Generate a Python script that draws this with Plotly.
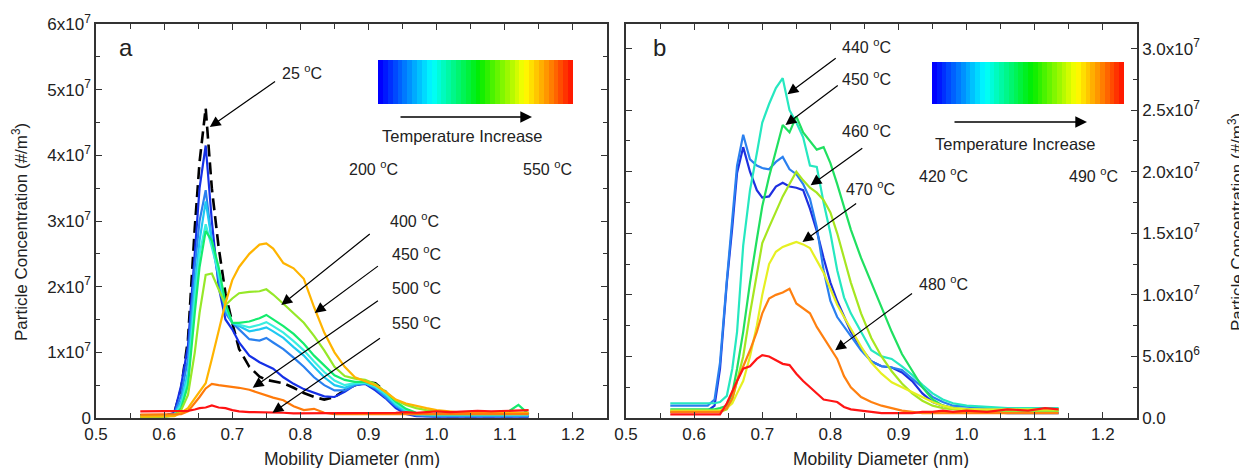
import plotly.graph_objects as go

W, H = 1247, 468          # browser window
OFF = 8                   # page body margin in the browser
FONT = "Liberation Sans, Arial, sans-serif"

# ---------------- Panel a data (concentration in units of 1e7 #/m3) ----------------
xa = [0.565, 0.58, 0.60, 0.615, 0.625, 0.635, 0.645, 0.652, 0.661, 0.67, 0.68, 0.69, 0.70, 0.71,
      0.725, 0.74, 0.75, 0.76, 0.775, 0.79, 0.805, 0.82, 0.835, 0.85, 0.865, 0.88, 0.895, 0.91,
      0.925, 0.94, 0.955, 0.97, 0.985, 1.0, 1.02, 1.04, 1.06, 1.08, 1.1, 1.12, 1.135]

a_25C = [0.04, 0.03, 0.03, 0.08, 0.45, 1.2, 2.9, 3.9, 4.72, 3.5, 2.6, 1.9, 1.45, 1.05,
         0.78, 0.63, 0.58, 0.56, 0.53, 0.46, 0.38, 0.32, 0.28, 0.32, 0.42, 0.5, 0.55, 0.53,
         0.4, 0.2, 0.08, 0.04, 0.03, 0.03, 0.03, 0.03, 0.03, 0.03, 0.03, 0.03, 0.03]
a_200C = [0.03, 0.03, 0.03, 0.08, 0.5, 1.1, 2.6, 3.5, 4.15, 3.0, 2.0, 1.5, 1.35, 1.15,
          0.95, 0.85, 0.8, 0.75, 0.62, 0.52, 0.44, 0.38, 0.33, 0.32, 0.4, 0.5, 0.52, 0.42,
          0.3, 0.15, 0.06, 0.03, 0.02, 0.02, 0.02, 0.02, 0.02, 0.02, 0.02, 0.02, 0.02]
a_250C = [0.02, 0.02, 0.02, 0.06, 0.35, 0.9, 2.3, 3.0, 3.47, 2.7, 2.1, 1.6, 1.45, 1.35,
          1.2, 1.18, 1.22, 1.15, 1.05, 0.92, 0.78, 0.62, 0.5, 0.42, 0.42, 0.5, 0.53, 0.45,
          0.32, 0.18, 0.08, 0.04, 0.03, 0.03, 0.03, 0.03, 0.03, 0.03, 0.03, 0.03, 0.03]
a_300C = [0.02, 0.02, 0.02, 0.05, 0.25, 0.7, 2.0, 2.7, 3.3, 2.7, 2.2, 1.65, 1.45, 1.4,
          1.32, 1.35, 1.38, 1.32, 1.22, 1.08, 0.95, 0.78, 0.62, 0.5, 0.46, 0.52, 0.53, 0.47,
          0.35, 0.2, 0.1, 0.05, 0.04, 0.04, 0.04, 0.04, 0.04, 0.04, 0.04, 0.04, 0.04]
a_325C = [0.02, 0.02, 0.02, 0.04, 0.2, 0.6, 1.8, 2.5, 2.95, 2.6, 2.2, 1.7, 1.45, 1.42,
          1.38, 1.42, 1.46, 1.4, 1.3, 1.17, 1.03, 0.86, 0.7, 0.57, 0.5, 0.53, 0.54, 0.48,
          0.37, 0.22, 0.12, 0.06, 0.05, 0.05, 0.05, 0.05, 0.05, 0.05, 0.05, 0.05, 0.05]
a_350C = [0.02, 0.02, 0.02, 0.03, 0.15, 0.5, 1.6, 2.3, 2.85, 2.7, 2.3, 1.75, 1.45, 1.45,
          1.47, 1.52, 1.57, 1.5, 1.4, 1.28, 1.13, 0.95, 0.8, 0.65, 0.58, 0.55, 0.55, 0.5,
          0.4, 0.25, 0.14, 0.08, 0.06, 0.06, 0.06, 0.06, 0.06, 0.06, 0.06, 0.2, 0.06]
a_400C = [0.02, 0.02, 0.02, 0.04, 0.12, 0.35, 1.0, 1.6, 2.18, 2.2, 1.95, 1.72, 1.82, 1.9,
          1.92, 1.93, 1.96, 1.88, 1.74, 1.6, 1.45, 1.25, 1.03, 0.78, 0.64, 0.6, 0.58, 0.52,
          0.4, 0.27, 0.2, 0.15, 0.12, 0.1, 0.08, 0.08, 0.08, 0.08, 0.08, 0.08, 0.08]
a_450C = [0.02, 0.02, 0.02, 0.03, 0.08, 0.15, 0.3, 0.4, 0.53, 0.9, 1.34, 1.75, 2.1, 2.3,
          2.5, 2.64, 2.66, 2.58, 2.36, 2.28, 2.12, 1.69, 1.3, 1.0, 0.78, 0.62, 0.56, 0.5,
          0.4, 0.28, 0.22, 0.18, 0.15, 0.12, 0.1, 0.08, 0.08, 0.08, 0.08, 0.08, 0.08]
a_500C = [0.05, 0.05, 0.05, 0.05, 0.06, 0.1, 0.22, 0.32, 0.45, 0.52, 0.5, 0.49, 0.48, 0.46,
          0.43, 0.38, 0.34, 0.31, 0.27, 0.18, 0.12, 0.14, 0.08, 0.06, 0.06, 0.06, 0.06, 0.06,
          0.06, 0.06, 0.06, 0.06, 0.06, 0.06, 0.06, 0.06, 0.06, 0.06, 0.06, 0.06, 0.06]
a_550C = [0.1, 0.1, 0.1, 0.1, 0.1, 0.11, 0.13, 0.15, 0.16, 0.19, 0.16, 0.15, 0.12, 0.1,
          0.09, 0.09, 0.08, 0.08, 0.08, 0.07, 0.07, 0.07, 0.07, 0.07, 0.08, 0.08, 0.07, 0.08,
          0.08, 0.08, 0.09, 0.08, 0.09, 0.1, 0.09, 0.1, 0.11, 0.1, 0.11, 0.12, 0.12]

# ---------------- Panel b data (units of 1e7 #/m3) ----------------
xb = [0.565, 0.58, 0.60, 0.62, 0.63, 0.638, 0.648, 0.656, 0.663, 0.672, 0.682, 0.692, 0.70, 0.71,
      0.72, 0.73, 0.74, 0.75, 0.76, 0.77, 0.78, 0.79, 0.80, 0.81, 0.82, 0.83, 0.845, 0.86,
      0.875, 0.89, 0.905, 0.92, 0.935, 0.95, 0.965, 0.98, 1.0, 1.03, 1.06, 1.09, 1.115, 1.135]

b_420C = [0.05, 0.05, 0.05, 0.06, 0.1, 0.4, 1.1, 1.55, 1.99, 2.2, 2.0, 1.85, 1.79, 1.8,
          1.88, 1.91, 1.88, 1.87, 1.85, 1.7, 1.52, 1.3, 1.1, 0.95, 0.82, 0.7, 0.57, 0.46,
          0.42, 0.41, 0.37, 0.3, 0.2, 0.13, 0.1, 0.08, 0.06, 0.05, 0.04, 0.04, 0.04, 0.04]
b_430C = [0.1, 0.1, 0.1, 0.1, 0.15, 0.45, 1.12, 1.6, 2.05, 2.3, 2.1, 2.05, 2.03, 2.02,
          2.08, 2.12, 2.02, 1.98, 1.9, 1.78, 1.55, 1.2, 0.95, 0.82, 0.74, 0.66, 0.55, 0.46,
          0.42, 0.41, 0.39, 0.32, 0.25, 0.17, 0.13, 0.1, 0.09, 0.08, 0.08, 0.07, 0.07, 0.07]
b_440C = [0.12, 0.12, 0.12, 0.12, 0.12, 0.13, 0.18, 0.4, 0.7, 1.4, 1.85, 2.15, 2.4, 2.55,
          2.68, 2.76, 2.5, 2.4, 2.28, 2.05, 2.04, 1.75, 1.5, 1.2, 0.98, 0.85, 0.7, 0.55,
          0.5, 0.48, 0.42, 0.35, 0.27, 0.2, 0.15, 0.12, 0.1, 0.09, 0.08, 0.08, 0.08, 0.08]
b_450C = [0.07, 0.07, 0.07, 0.07, 0.07, 0.08, 0.1, 0.2, 0.4, 0.7, 1.1, 1.45, 1.72, 1.96,
          2.18, 2.38, 2.32, 2.45, 2.32, 2.25, 2.18, 2.2, 2.07, 1.9, 1.72, 1.53, 1.3, 1.1,
          0.9, 0.7, 0.52, 0.38, 0.25, 0.15, 0.1, 0.08, 0.07, 0.06, 0.06, 0.06, 0.06, 0.06]
b_460C = [0.05, 0.05, 0.05, 0.05, 0.05, 0.05, 0.07, 0.15, 0.3, 0.5, 0.85, 1.15, 1.42, 1.55,
          1.67, 1.8, 1.9, 2.0, 1.93, 1.87, 1.83, 1.77, 1.67, 1.5, 1.3, 1.1, 0.85, 0.65,
          0.5, 0.38, 0.28, 0.2, 0.14, 0.1, 0.08, 0.07, 0.06, 0.06, 0.06, 0.06, 0.06, 0.06]
b_470C = [0.06, 0.06, 0.06, 0.06, 0.06, 0.06, 0.08, 0.12, 0.2, 0.3, 0.5, 0.75, 1.0, 1.25,
          1.35, 1.39, 1.41, 1.43, 1.41, 1.38, 1.28, 1.18, 1.05, 0.92, 0.82, 0.72, 0.58, 0.45,
          0.36, 0.29, 0.25, 0.21, 0.17, 0.13, 0.1, 0.08, 0.07, 0.07, 0.07, 0.07, 0.07, 0.07]
b_480C = [0.05, 0.05, 0.05, 0.05, 0.05, 0.05, 0.08, 0.16, 0.3, 0.42, 0.55, 0.7, 0.85, 0.97,
          1.0, 1.02, 1.05, 0.93, 0.89, 0.85, 0.74, 0.65, 0.57, 0.48, 0.34, 0.25, 0.17, 0.13,
          0.1, 0.08, 0.06, 0.05, 0.04, 0.04, 0.04, 0.04, 0.04, 0.04, 0.04, 0.04, 0.04, 0.04]
b_490C = [0.03, 0.03, 0.03, 0.03, 0.03, 0.03, 0.12, 0.22, 0.3, 0.4, 0.42, 0.48, 0.51, 0.5,
          0.47, 0.44, 0.43, 0.36, 0.3, 0.25, 0.2, 0.15, 0.14, 0.13, 0.09, 0.07, 0.06, 0.05,
          0.04, 0.04, 0.04, 0.04, 0.05, 0.05, 0.06, 0.05, 0.06, 0.05, 0.07, 0.06, 0.08, 0.07]

SCALE = 1e7

series_a = [
    ("200 °C", a_200C, "#1530e6"),
    ("250 °C", a_250C, "#2a80ef"),
    ("300 °C", a_300C, "#1ec8f2"),
    ("325 °C", a_325C, "#3aefe0"),
    ("350 °C", a_350C, "#14ec6e"),
    ("400 °C", a_400C, "#96e828"),
    ("450 °C", a_450C, "#ffb400"),
    ("500 °C", a_500C, "#ff7a0a"),
    ("550 °C", a_550C, "#ff1212"),
]
series_b = [
    ("420 °C", b_420C, "#1e30e0"),
    ("430 °C", b_430C, "#2a80ef"),
    ("440 °C", b_440C, "#26e8c0"),
    ("450 °C", b_450C, "#20e060"),
    ("460 °C", b_460C, "#a6e620"),
    ("470 °C", b_470C, "#e6f022"),
    ("480 °C", b_480C, "#ff8010"),
    ("490 °C", b_490C, "#ff1515"),
]

# colour-bar (temperature ramp) stops
ramp_stops = [[0.0, "#0000ff"], [0.27, "#00ffff"], [0.52, "#00ee00"],
              [0.76, "#ffff00"], [0.87, "#ff9900"], [1.0, "#ff1a00"]]
ramp_cells = list(range(40))

fig = go.Figure()

# 25 °C reference (dashed, drawn underneath so the baseline is covered)
fig.add_trace(go.Scatter(x=xa, y=[v * SCALE for v in a_25C], mode="lines", name="25 °C",
                         line=dict(color="black", width=2.6, dash="12px,6px"),
                         xaxis="x", yaxis="y"))
for name, ys, col in series_a:
    fig.add_trace(go.Scatter(x=xa, y=[v * SCALE for v in ys], mode="lines", name=name,
                             line=dict(color=col, width=2.2), xaxis="x", yaxis="y"))

for name, ys, col in series_b:
    fig.add_trace(go.Scatter(x=xb, y=[v * SCALE for v in ys], mode="lines", name=name,
                             line=dict(color=col, width=2.2), xaxis="x2", yaxis="y2"))

# temperature ramps
fig.add_trace(go.Heatmap(z=[ramp_cells], colorscale=ramp_stops, showscale=False,
                         xaxis="x3", yaxis="y3", hoverinfo="skip"))
fig.add_trace(go.Heatmap(z=[ramp_cells], colorscale=ramp_stops, showscale=False,
                         xaxis="x4", yaxis="y4", hoverinfo="skip"))

# plot area in screen pixels: [96, 1137] x [24, 418]
L_PX, R_PX, T_PX, B_PX = 96, 1137, 24, 418
FIG_W, FIG_H = W - OFF, H - OFF
ML, MT = L_PX - OFF, T_PX - OFF
MR, MB = W - R_PX, H - B_PX
PW, PH = R_PX - L_PX, B_PX - T_PX


def px(x):
    return (x - L_PX) / PW


def py(y):
    return 1 - (y - T_PX) / PH


axis_common = dict(showline=True, linecolor="#333333", linewidth=1.5, mirror="ticks",
                   ticks="inside", ticklen=6, tickwidth=1.2, tickcolor="#333333",
                   showgrid=False, zeroline=False, automargin=False,
                   tickfont=dict(family=FONT, size=17, color="#222222"))

ydom = [py(418), py(24)]
xticks = [0.5, 0.6, 0.7, 0.8, 0.9, 1.0, 1.1, 1.2]

fig.update_layout(
    width=FIG_W, height=FIG_H, margin=dict(l=ML, r=MR, t=MT, b=MB, autoexpand=False),
    paper_bgcolor="white", plot_bgcolor="white", showlegend=False,
    font=dict(family=FONT, size=17, color="#222222"),
    xaxis=dict(domain=[px(96), px(607)], range=[0.5, 1.25], anchor="y",
               tickvals=xticks, ticktext=[f"{v:.1f}" for v in xticks],
               minor=dict(ticks="inside", ticklen=5, dtick=0.05, tick0=0.5, tickcolor="#333333"),
               **axis_common),
    yaxis=dict(domain=ydom, range=[0, 6e7], anchor="x",
               tickvals=[0, 1e7, 2e7, 3e7, 4e7, 5e7, 6e7],
               ticktext=["0"] + [f"{i}x10<sup>7</sup>" for i in range(1, 7)],
               minor=dict(ticks="inside", ticklen=4, dtick=0.5e7, tick0=0, tickcolor="#333333"),
               **axis_common),
    xaxis2=dict(domain=[px(626), px(1137)], range=[0.5, 1.25], anchor="y2",
                tickvals=xticks, ticktext=[f"{v:.1f}" for v in xticks],
                minor=dict(ticks="inside", ticklen=5, dtick=0.05, tick0=0.5, tickcolor="#333333"),
                **axis_common),
    yaxis2=dict(domain=ydom, range=[0, 3.2e7], anchor="x2", side="right",
                tickvals=[0, 0.5e7, 1e7, 1.5e7, 2e7, 2.5e7, 3e7],
                ticktext=["0.0", "5.0x10<sup>6</sup>", "1.0x10<sup>7</sup>", "1.5x10<sup>7</sup>",
                          "2.0x10<sup>7</sup>", "2.5x10<sup>7</sup>", "3.0x10<sup>7</sup>"],
                minor=dict(ticks="inside", ticklen=4, dtick=0.25e7, tick0=0, tickcolor="#333333"),
                **axis_common),
    xaxis3=dict(domain=[px(378), px(573)], anchor="y3", visible=False, range=[-0.5, 39.5]),
    yaxis3=dict(domain=[py(104), py(60)], anchor="x3", visible=False, range=[-0.5, 0.5]),
    xaxis4=dict(domain=[px(932), px(1124)], anchor="y4", visible=False, range=[-0.5, 39.5]),
    yaxis4=dict(domain=[py(104), py(62)], anchor="x4", visible=False, range=[-0.5, 0.5]),
)

ann = []


def text_paper(x, y, t, size=17, angle=0):
    ann.append(dict(x=px(x), y=py(y), xref="paper", yref="paper", text=t, showarrow=False,
                    textangle=angle, xanchor="center", yanchor="middle",
                    font=dict(family=FONT, size=size, color="#222222")))


def deg(t):
    return f"{t} <sup>o</sup>C"


# axis titles
text_paper(352, 459, "Mobility Diameter (nm)", 17.5)
text_paper(881, 459, "Mobility Diameter (nm)", 17.5)
text_paper(20, 232, "Particle Concentration (#/m<sup>3</sup>)", 17, -90)
text_paper(1236, 222, "Particle Concentration (#/m<sup>3</sup>)", 17, -90)

# panel letters
text_paper(126, 48, "a", 24)
text_paper(659, 48, "b", 24)

# ramp captions
text_paper(462, 136, "Temperature Increase", 16.5)
text_paper(373, 168, deg(200), 16)
text_paper(547, 168, deg(550), 16)
text_paper(1015, 144, "Temperature Increase", 16.5)
text_paper(943, 175, deg(420), 16)
text_paper(1093, 175, deg(490), 16)

# ramp arrows
for (x0, x1, yy) in [(399, 532, 117), (953, 1087, 122)]:
    ann.append(dict(x=px(x1), y=py(yy), xref="paper", yref="paper", ax=-(x1 - x0), ay=0,
                    text="", showarrow=True, arrowhead=2, arrowsize=1.8, arrowwidth=1.3,
                    arrowcolor="black"))

# labelled arrows: (label, text x, text y, tail x, tail y, tip x, tip y)
labels_a = [
    ("25", 0.803, 5.27e7, 0.765, 5.14e7, 0.667, 4.43e7),
    ("400", 0.967, 3.01e7, 0.904, 2.82e7, 0.772, 1.72e7),
    ("450", 0.970, 2.51e7, 0.916, 2.33e7, 0.821, 1.60e7),
    ("500", 0.970, 1.99e7, 0.916, 1.80e7, 0.730, 0.46e7),
    ("550", 0.970, 1.46e7, 0.919, 1.23e7, 0.759, 0.08e7),
]
labels_b = [
    ("440", 0.853, 3.02e7, 0.810, 2.93e7, 0.737, 2.63e7),
    ("450", 0.853, 2.76e7, 0.813, 2.71e7, 0.734, 2.38e7),
    ("460", 0.853, 2.34e7, 0.849, 2.20e7, 0.771, 1.89e7),
    ("470", 0.859, 1.87e7, 0.840, 1.75e7, 0.759, 1.43e7),
    ("480", 0.966, 1.10e7, 0.922, 1.02e7, 0.807, 0.55e7),
]
for labs, xr, yr in [(labels_a, "x", "y"), (labels_b, "x2", "y2")]:
    for t, tx, ty, ax_, ay_, hx, hy in labs:
        ann.append(dict(x=tx, y=ty, xref=xr, yref=yr, text=deg(t), showarrow=False,
                        font=dict(family=FONT, size=16, color="#222222")))
        ann.append(dict(x=hx, y=hy, xref=xr, yref=yr, ax=ax_, ay=ay_, axref=xr, ayref=yr,
                        text="", showarrow=True, arrowhead=2, arrowsize=1.8, arrowwidth=1.2,
                        arrowcolor="black"))

fig.update_layout(annotations=ann)
fig.write_html("out.html")
